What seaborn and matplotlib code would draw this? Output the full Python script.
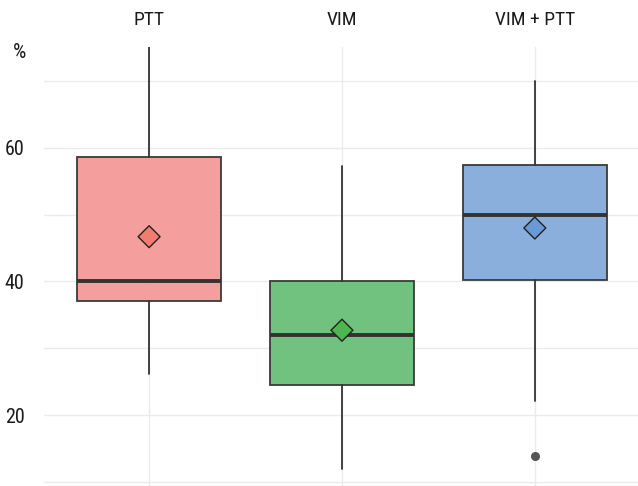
import matplotlib
matplotlib.use("Agg")
import matplotlib.pyplot as plt
from matplotlib import font_manager
import seaborn as sns
import pandas as pd

# Summary statistics per treatment group (percent)
groups = ["PTT", "VIM", "VIM + PTT"]
whisker_low = [26.2, 11.9, 22.1]
q1 = [37.1, 24.5, 40.2]
median = [40.0, 32.0, 50.0]
q3 = [58.7, 40.1, 57.4]
whisker_high = [75.1, 57.3, 70.0]
means = [46.7, 32.7, 48.0]
outliers = [[], [], [13.9]]

box_colors = ["#F49A98", "#6ABF78", "#84ABDA"]
mean_colors = ["#F37C70", "#4DB650", "#6A9AD6"]

sns.set_theme(style="whitegrid")
installed = {f.name for f in font_manager.fontManager.ttflist}
families = [f for f in ["Liberation Sans Narrow", "Roboto Condensed", "Open Sans Condensed"] if f in installed]
plt.rcParams["font.family"] = families + ["DejaVu Sans"]

fig = plt.figure(figsize=(6.38, 4.86), dpi=100)
ax = fig.add_axes([44 / 638, 0.0, 1 - 44 / 638, 1 - 47 / 486])

stats = []
for i, g in enumerate(groups):
    stats.append(dict(label=g, whislo=whisker_low[i], q1=q1[i], med=median[i],
                      q3=q3[i], whishi=whisker_high[i], mean=means[i],
                      fliers=outliers[i]))

bp = ax.bxp(stats, positions=range(len(groups)), widths=0.75, patch_artist=True,
            showcaps=False, showmeans=False,
            boxprops=dict(edgecolor="#3a3a3a", linewidth=1.3),
            medianprops=dict(color="#333333", linewidth=2.8, solid_capstyle="butt"),
            whiskerprops=dict(color="#333333", linewidth=1.3),
            flierprops=dict(marker="o", markerfacecolor="#555555", markeredgecolor="#555555",
                            markersize=5.5))
for patch, c in zip(bp["boxes"], box_colors):
    patch.set_facecolor(matplotlib.colors.to_rgba(c, 0.95))

mean_df = pd.DataFrame({"group": range(len(groups)), "mean": means, "name": groups})
sns.scatterplot(data=mean_df, x="group", y="mean", hue="name", palette=mean_colors,
                marker="D", s=125, edgecolor="#222222", linewidth=1.0, legend=False,
                zorder=5, ax=ax)

ax.set_xlim(-0.545, 2.535)
ax.set_ylim(9.38, 75.1)
ax.set_xticks(range(len(groups)))
ax.set_xticklabels(groups)
ax.xaxis.tick_top()
ax.set_yticks([20, 40, 60])
ax.set_yticks([10, 30, 50, 70], minor=True)
ax.grid(True, which="major", color="#EBEBEB", linewidth=1.0)
ax.grid(True, which="minor", axis="y", color="#EBEBEB", linewidth=1.0)
ax.set_axisbelow(True)
for s in ax.spines.values():
    s.set_visible(False)
ax.tick_params(axis="x", which="both", length=0, pad=13, labelsize=14, colors="#1a1a1a")
ax.tick_params(axis="y", which="both", length=0, pad=14, labelsize=14.5, colors="#1a1a1a")
ax.set_xlabel("")
ax.set_ylabel("")
fig.text(19 / 638, 1 - 52 / 486, "%", ha="center", va="center", fontsize=15, color="#1a1a1a")

fig.savefig("out.png", dpi=100)
